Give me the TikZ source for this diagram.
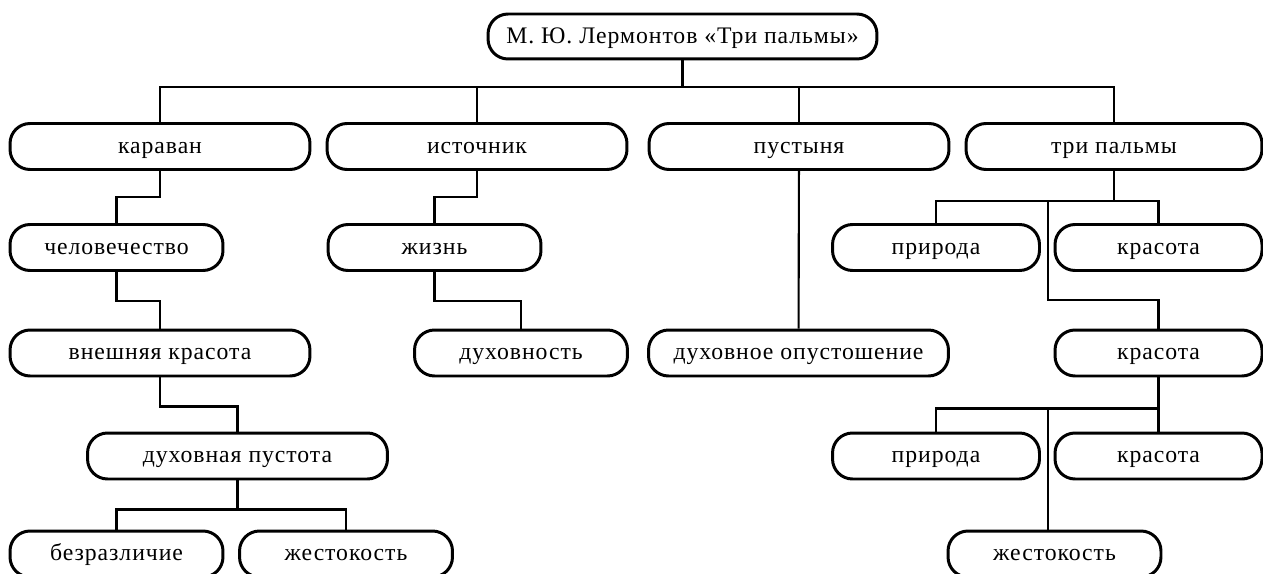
\documentclass[tikz,border=0pt]{standalone}
\usepackage{fontspec}
\setmainfont[LetterSpace=4]{Liberation Serif}
\usetikzlibrary{calc}
\tikzset{
  term box/.style = {
    shape = rectangle,
    align = center,
    draw  = black,
    line width = 1.7pt,
    minimum width = #1,
    minimum height = 0.92cm,
    text height = 2ex,
    text depth = 0.3ex,
    rounded corners = 0.4cm},
  term box/.default = 4.26cm,
  link/.style = {draw, line width = 1.2pt}
}

\begin{document}
\begin{tikzpicture}[x = 0.02cm, y = -0.02cm, nodes = {font = \fontsize{13.5}{16}\selectfont}]
  \useasboundingbox (0,0) rectangle (1263,574);
  \node[term box = 7.78cm, minimum height = 0.9cm] (poem) at (682.5,36.5) {М. Ю. Лермонтов «Три пальмы»};
  \node[term box = 6cm] (caravan) at (160,146.5) {караван};
  \node[term box = 6cm] (spring) at (477,146.5) {источник};
  \node[term box = 6cm] (desert) at (799,146.5) {пустыня};
  \node[term box = 5.92cm] (palms) at (1114,146.5) {три пальмы};
  \node[term box] (mankind) at (116.5,247.5) {человечество};
  \node[term box] (life) at (434.5,247.5) {жизнь};
  \node[term box = 4.14cm] (nature) at (936,247.5) {природа};
  \node[term box = 4.14cm] (beauty) at (1158.5,247.5) {красота};
  \node[term box = 6cm] (outerbeauty) at (160,353) {внешняя красота};
  \node[term box] (spirituality) at (521,353) {духовность};
  \node[term box = 6cm] (devastation) at (798.5,353) {духовное опустошение};
  \node[term box = 4.14cm] (beautytwo) at (1158.5,353) {красота};
  \node[term box = 6cm] (emptiness) at (237.5,456) {духовная пустота};
  \node[term box = 4.14cm] (naturetwo) at (936,456) {природа};
  \node[term box = 4.14cm] (beautythree) at (1158.5,456) {красота};
  \node[term box] (indifference) at (116.5,554) {безразличие};
  \node[term box] (cruelty) at (346,554) {жестокость};
  \node[term box] (crueltytwo) at (1054.5,554) {жестокость};

  \coordinate (bustop) at (682.5,87);
  \draw[link] (poem) -- (bustop);
  \draw[link] (caravan) |- (bustop) -| (palms);
  \draw[link] (spring) -- (spring |- bustop);
  \draw[link] (desert) -- (desert |- bustop);

  \draw[link] (caravan.south) -- ++(0,26) -| (mankind);
  \draw[link] (spring.south) -- ++(0,26) -| (life);
  \draw[link] (mankind.south) -- ++(0,29) -| (outerbeauty);
  \draw[link] (life.south) -- ++(0,29) -| (spirituality);
  \draw[link] (desert) -- (devastation);
  \draw[link] (outerbeauty.south) -- ++(0,29) -| (emptiness);
  \draw[link] (emptiness.south) -- ++(0,29) coordinate (busemptiness);
  \draw[link] (indifference) |- (busemptiness) -| (cruelty);

  \draw[link] (palms.south) -- ++(0,30) coordinate (buspalms);
  \draw[link] (nature) |- (buspalms) -| (beauty);
  \coordinate (midpalms) at (1048,200);
  \draw[link] (midpalms) -- ++(0,100) -| (beautytwo);
  \draw[link] (beautytwo.south) -- ++(0,31) coordinate (busbeauty);
  \draw[link] (naturetwo) |- (busbeauty) -| (beautythree);
  \coordinate (midbeauty) at (1048,407);
  \draw[link] (midbeauty) -- (midbeauty |- crueltytwo.north);
\end{tikzpicture}
\end{document}
